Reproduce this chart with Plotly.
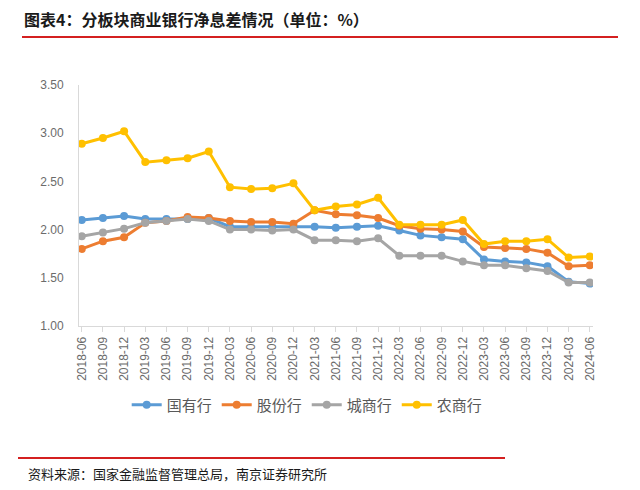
import plotly.graph_objects as go

quarters = ["2018-06", "2018-09", "2018-12", "2019-03", "2019-06", "2019-09", "2019-12",
            "2020-03", "2020-06", "2020-09", "2020-12", "2021-03", "2021-06", "2021-09",
            "2021-12", "2022-03", "2022-06", "2022-09", "2022-12", "2023-03", "2023-06",
            "2023-09", "2023-12", "2024-03", "2024-06"]

guoyou = [2.10, 2.12, 2.14, 2.11, 2.11, 2.11, 2.12, 2.03, 2.03, 2.03, 2.03, 2.03, 2.02,
          2.03, 2.04, 1.99, 1.94, 1.92, 1.90, 1.69, 1.67, 1.66, 1.62, 1.46, 1.44]
gufen = [1.80, 1.88, 1.92, 2.07, 2.09, 2.13, 2.12, 2.09, 2.08, 2.08, 2.06, 2.20, 2.16,
         2.15, 2.12, 2.04, 2.01, 2.00, 1.98, 1.82, 1.81, 1.80, 1.76, 1.62, 1.63]
chengshang = [1.93, 1.97, 2.01, 2.07, 2.09, 2.11, 2.09, 2.00, 2.00, 1.99, 2.00, 1.89, 1.89,
              1.88, 1.91, 1.73, 1.73, 1.73, 1.67, 1.63, 1.63, 1.60, 1.57, 1.45, 1.45]
nongshang = [2.89, 2.95, 3.02, 2.70, 2.72, 2.74, 2.81, 2.44, 2.42, 2.43, 2.48, 2.20, 2.24,
             2.26, 2.33, 2.05, 2.05, 2.05, 2.10, 1.85, 1.88, 1.88, 1.90, 1.71, 1.72]

series_names = ["国有行", "股份行", "城商行", "农商行"]
series_values = [guoyou, gufen, chengshang, nongshang]
colors = ["#5B9BD5", "#ED7D31", "#A5A5A5", "#FFC000"]

title_text = "图表4：分板块商业银行净息差情况（单位：%）"
source_text = "资料来源：国家金融监督管理总局，南京证券研究所"

fig = go.Figure()
for name, vals, col in zip(series_names, series_values, colors):
    fig.add_trace(go.Scatter(
        x=list(range(len(quarters))), y=vals, name=name, mode="lines+markers",
        line=dict(color=col, width=3),
        marker=dict(color=col, size=8, line=dict(width=0)),
    ))

# plot area pixel geometry
L, R, T, B = 79, 593, 85, 326
W, H = R - L, B - T

def px_x(p):
    return (p - L) / W

def px_y(p):
    return (B - p) / H

fig.update_layout(
    width=640, height=490,
    margin=dict(l=L, r=640 - R, t=T, b=490 - B, autoexpand=False),
    paper_bgcolor="white", plot_bgcolor="white",
    font=dict(family="Liberation Sans, Arial, Noto Sans CJK SC", color="#595959"),
    showlegend=True,
    legend=dict(
        orientation="h", xref="container", yref="container",
        x=0.48, xanchor="center", y=(490 - 405) / 490, yanchor="middle",
        font=dict(family="Noto Sans CJK SC", size=15, color="#595959"),
        itemwidth=30, tracegroupgap=0,
    ),
    xaxis=dict(
        range=[-0.13, 24.15], automargin=False,
        tickmode="array", tickvals=list(range(len(quarters))), ticktext=quarters,
        tickangle=-90, tickfont=dict(size=12, color="#6b6b6b"),
        showline=True, linecolor="#D9D9D9", linewidth=1,
        ticks="outside", ticklen=5, tickcolor="#D9D9D9",
        showgrid=False, zeroline=False, fixedrange=True,
    ),
    yaxis=dict(
        range=[1.0, 3.5], dtick=0.5, tickformat=".2f", automargin=False,
        tickfont=dict(size=12, color="#6b6b6b"),
        showline=True, linecolor="#D9D9D9", linewidth=1,
        ticks="", ticklabelstandoff=12,
        showgrid=False, zeroline=False, fixedrange=True,
    ),
)

# red rules
fig.add_shape(type="line", xref="paper", yref="paper",
              x0=px_x(22), x1=px_x(618), y0=px_y(37), y1=px_y(37),
              line=dict(color="#D42020", width=2))
fig.add_shape(type="line", xref="paper", yref="paper",
              x0=px_x(18), x1=px_x(505), y0=px_y(458), y1=px_y(458),
              line=dict(color="#D42020", width=2))

fig.add_annotation(text="<b>" + title_text + "</b>", xref="paper", yref="paper",
                   x=px_x(22), y=px_y(19), xanchor="left", yanchor="middle",
                   showarrow=False,
                   font=dict(family="Noto Sans CJK SC", size=16, color="#1a1a1a"))
fig.add_annotation(text=source_text, xref="paper", yref="paper",
                   x=px_x(26), y=px_y(473), xanchor="left", yanchor="middle",
                   showarrow=False,
                   font=dict(family="Noto Sans CJK SC", size=13, color="#1a1a1a"))

fig.write_html("out.html", config={"displayModeBar": False})
